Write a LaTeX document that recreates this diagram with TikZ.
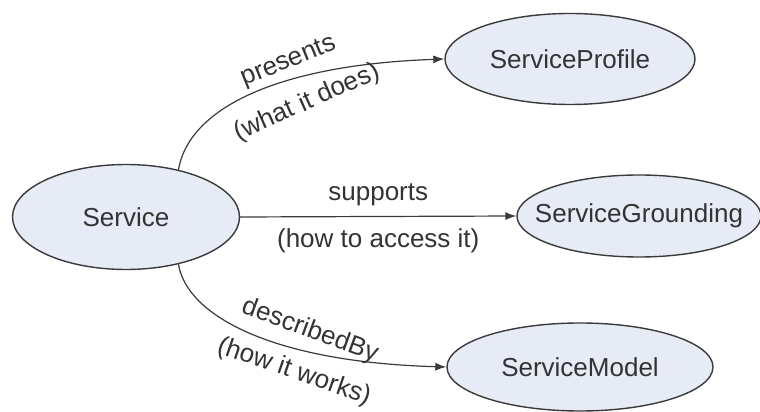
\documentclass[tikz,border=0pt]{standalone}
\usepackage{fontspec}
\setmainfont{Liberation Sans}
\usetikzlibrary{positioning,arrows.meta,shapes.geometric}
\definecolor{colClase}{HTML}{E7EBF6}
\definecolor{colBorde}{HTML}{3A3A3A}
\definecolor{colTexto}{HTML}{333333}
\newcommand{\nombreClase}[1]{\makebox[0pt]{#1}}

\begin{document}
\begin{tikzpicture}[x=1pt, y=1pt, >={Latex[length=11pt,width=8pt]},
    font=\fontsize{26}{30}\selectfont, text=colTexto,
    clase/.style={ellipse, draw=colBorde, fill=colClase, line width=1.4pt, inner sep=0pt},
    rel/.style={->, line width=1.2pt, draw=colBorde}]
        \useasboundingbox (0,0) rectangle (760,412);

        % Clases
        \node[clase, minimum width=227pt, minimum height=105pt] (service) at (126,195) {\nombreClase{Service}};
        \node[clase, minimum width=250pt, minimum height=91pt] (profile) at (570,353) {\nombreClase{ServiceProfile}};
        \node[clase, minimum width=244pt, minimum height=82pt] (grounding) at (639,196) {\nombreClase{ServiceGrounding}};
        \node[clase, minimum width=266pt, minimum height=88pt] (model) at (580,45) {\nombreClase{ServiceModel}};

        % Relaciones
        \draw[rel] (service.42) .. controls +(10,60) and +(-170,-6) .. (profile.west);
        \draw[rel] (service.east) -- (grounding.west)
            node[midway, above=7pt] (lblSupports) {supports}
            node[midway, below=8pt] (lblAcceso) {(how to access it)};
        \draw[rel] (service.-42) .. controls +(8,-50) and +(-177,5) .. (model.west);

        % Etiquetas de las curvas
        \node[rotate=22] (lblPresents) at (289,350) {presents};
        \node[rotate=24] (lblQueHace) at (307,309) {(what it does)};
        \node[rotate=-20] (lblDescribed) at (310,81) {describedBy};
        \node[rotate=-19] (lblComo) at (294,40) {(how it works)};
    \end{tikzpicture}
\end{document}
